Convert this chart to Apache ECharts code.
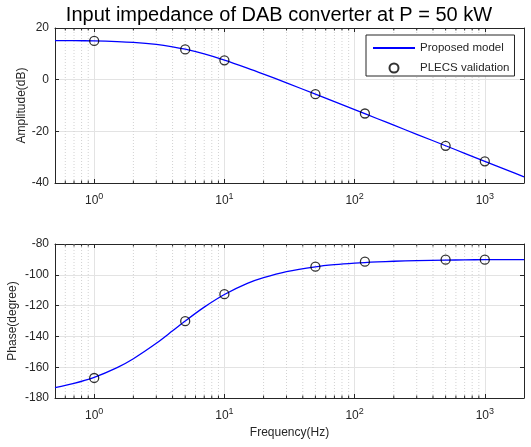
<!DOCTYPE html>
<html>
<head>
<meta charset="UTF-8">
<title>Input impedance</title>
<script src="https://cdn.jsdelivr.net/npm/echarts@6/dist/echarts.min.js"></script>
<style>
html,body{margin:0;padding:0;background:#fff;}
#chart{width:531px;height:447px;}
</style>
</head>
<body>
<div id="chart"></div>
<script type="text/javascript">
// frequency grid of the model curve (Hz)
var freq = [0.5, 0.7, 1, 1.5, 2, 3, 4, 5, 7, 10, 15, 20, 30, 50, 70, 100, 150, 200, 300, 500, 700, 1000, 1500, 2000];
// Proposed model
var ampModel = [15.15, 15.1, 15.0, 14.76, 14.44, 13.64, 12.73, 11.78, 9.96, 7.58, 4.49, 2.16, -1.24, -5.62, -8.52, -11.61, -15.13, -17.62, -21.14, -25.58, -28.5, -31.6, -35.12, -37.62];
var phaseModel = [-173.2, -170.5, -166.6, -160.3, -154.5, -144.5, -136.4, -130.0, -121.0, -112.8, -105.6, -101.9, -98.0, -94.8, -93.4, -92.4, -91.6, -91.2, -90.8, -90.5, -90.3, -90.2, -90.2, -90.1];
// PLECS validation points
var plecsFreq = [1, 5, 10, 50, 120, 500, 1000];
var plecsAmp = [15.0, 11.7, 7.5, -5.6, -13.1, -25.6, -31.6];
var plecsPhase = [-167.0, -130.1, -112.6, -94.7, -91.5, -90.2, -90.2];
// minor log ticks
var minorFreq = [0.6, 0.7, 0.8, 0.9, 2, 3, 4, 5, 6, 7, 8, 9, 20, 30, 40, 50, 60, 70, 80, 90, 200, 300, 400, 500, 600, 700, 800, 900];

var font = 'Liberation Sans';
var ink = '#262626';

function pairs(xs, ys){
	var out = [];
	for (var i = 0; i < xs.length; i++) out.push([xs[i], ys[i]]);
	return out;
}

function decadeLabel(v){
	var p = Math.round(Math.log10(v));
	if (Math.abs(Math.log10(v) - p) > 1e-6) return '';
	return '10{s|' + p + '}';
}

function xAxisFor(grid, pos, labels){
	return {
		type: 'log', logBase: 10, gridIndex: grid, position: pos,
		min: 0.5, max: 2000,
		axisLine: {show: true, onZero: false, lineStyle: {color: ink, width: 1}},
		axisTick: {show: true, inside: true, length: 4, lineStyle: {color: ink}},
		axisLabel: {show: labels, formatter: decadeLabel, color: ink, fontFamily: font, fontSize: 12, margin: 9,
			showMinLabel: false, showMaxLabel: false,
			rich: {s: {fontSize: 9, fontFamily: font, color: ink, verticalAlign: 'bottom', padding: [0, 0, 8, 0]}}},
		splitLine: {show: pos === 'bottom', lineStyle: {color: '#e3e3e3', width: 1}}
	};
}

function yAxisFor(grid, pos, min, max, name, gap){
	return {
		type: 'value', gridIndex: grid, position: pos,
		min: min, max: max, interval: 20,
		name: pos === 'left' ? name : '', nameLocation: 'middle', nameGap: gap, nameMoveOverlap: false,
		nameTextStyle: {color: ink, fontFamily: font, fontSize: 12},
		axisLine: {show: true, onZero: false, lineStyle: {color: ink, width: 1}},
		axisTick: {show: true, inside: true, length: 4, lineStyle: {color: ink}},
		axisLabel: {show: pos === 'left', color: ink, fontFamily: font, fontSize: 12, margin: 6},
		splitLine: {show: pos === 'left', lineStyle: {color: '#e3e3e3', width: 1}}
	};
}

function minorRender(yMin, yMax){
	return function(params, api){
		var f = api.value(0);
		var b = api.coord([f, yMin]);
		var t = api.coord([f, yMax]);
		return {type: 'group', children: [
			{type: 'line', shape: {x1: b[0], y1: b[1], x2: t[0], y2: t[1]}, style: {stroke: '#d2d2d2', lineWidth: 1, lineDash: [1, 2]}},
			{type: 'line', shape: {x1: b[0], y1: b[1], x2: b[0], y2: b[1] - 2.5}, style: {stroke: ink, lineWidth: 1}},
			{type: 'line', shape: {x1: t[0], y1: t[1], x2: t[0], y2: t[1] + 2.5}, style: {stroke: ink, lineWidth: 1}}
		]};
	};
}

var chart = echarts.init(document.getElementById('chart'), null, {renderer: 'canvas'});

var option = {
	backgroundColor: '#fff',
	animation: false,
	title: {
		text: 'Input impedance of DAB converter at P = 50 kW',
		left: 274, top: 0, textAlign: 'center',
		textStyle: {color: '#000', fontFamily: font, fontSize: 20, fontWeight: 'normal'}
	},
	legend: {
		data: [{name: 'Proposed model', itemStyle: {opacity: 0}}, {name: 'PLECS validation', icon: 'circle'}],
		orient: 'vertical', left: 366, top: 35,
		padding: [7, 5, 2, 6], itemGap: 8, itemWidth: 42, itemHeight: 9,
		backgroundColor: '#fff', borderColor: ink, borderWidth: 1, borderRadius: 0,
		textStyle: {color: ink, fontFamily: font, fontSize: 11.5}
	},
	grid: [
		{left: 55, top: 28, width: 469, height: 155, outerBoundsMode: 'none', containLabel: false},
		{left: 55, top: 244, width: 469, height: 154, outerBoundsMode: 'none', containLabel: false}
	],
	xAxis: [
		xAxisFor(0, 'bottom', true),
		xAxisFor(0, 'top', false),
		Object.assign(xAxisFor(1, 'bottom', true), {name: 'Frequency(Hz)', nameLocation: 'middle', nameGap: 29,
			nameMoveOverlap: false, nameTextStyle: {color: ink, fontFamily: font, fontSize: 12}}),
		xAxisFor(1, 'top', false)
	],
	yAxis: [
		yAxisFor(0, 'left', -40, 20, 'Amplitude(dB)', 27),
		yAxisFor(0, 'right', -40, 20, '', 27),
		yAxisFor(1, 'left', -180, -80, 'Phase(degree)', 36),
		yAxisFor(1, 'right', -180, -80, '', 36)
	],
	series: [
		{type: 'custom', xAxisIndex: 0, yAxisIndex: 0, silent: true, z: 1,
			renderItem: minorRender(-40, 20), data: minorFreq.map(function(f){ return [f, -40]; })},
		{type: 'custom', xAxisIndex: 2, yAxisIndex: 2, silent: true, z: 1,
			renderItem: minorRender(-180, -80), data: minorFreq.map(function(f){ return [f, -180]; })},
		{name: 'Proposed model', type: 'line', xAxisIndex: 0, yAxisIndex: 0, z: 3,
			data: pairs(freq, ampModel), smooth: 0.3, symbol: 'none', showSymbol: false,
			lineStyle: {color: '#0000ff', width: 1.3}, itemStyle: {color: '#0000ff'}},
		{name: 'PLECS validation', type: 'scatter', xAxisIndex: 0, yAxisIndex: 0, z: 4,
			data: pairs(plecsFreq, plecsAmp), symbol: 'circle', symbolSize: 9,
			itemStyle: {color: 'rgba(255,255,255,0)', borderColor: '#000', borderWidth: 1.3}},
		{name: 'Proposed model', type: 'line', xAxisIndex: 2, yAxisIndex: 2, z: 3,
			data: pairs(freq, phaseModel), smooth: 0.3, symbol: 'none', showSymbol: false,
			lineStyle: {color: '#0000ff', width: 1.3}, itemStyle: {color: '#0000ff'}},
		{name: 'PLECS validation', type: 'scatter', xAxisIndex: 2, yAxisIndex: 2, z: 4,
			data: pairs(plecsFreq, plecsPhase), symbol: 'circle', symbolSize: 9,
			itemStyle: {color: 'rgba(255,255,255,0)', borderColor: '#000', borderWidth: 1.3}}
	]
};
chart.setOption(option);
</script>
</body>
</html>
